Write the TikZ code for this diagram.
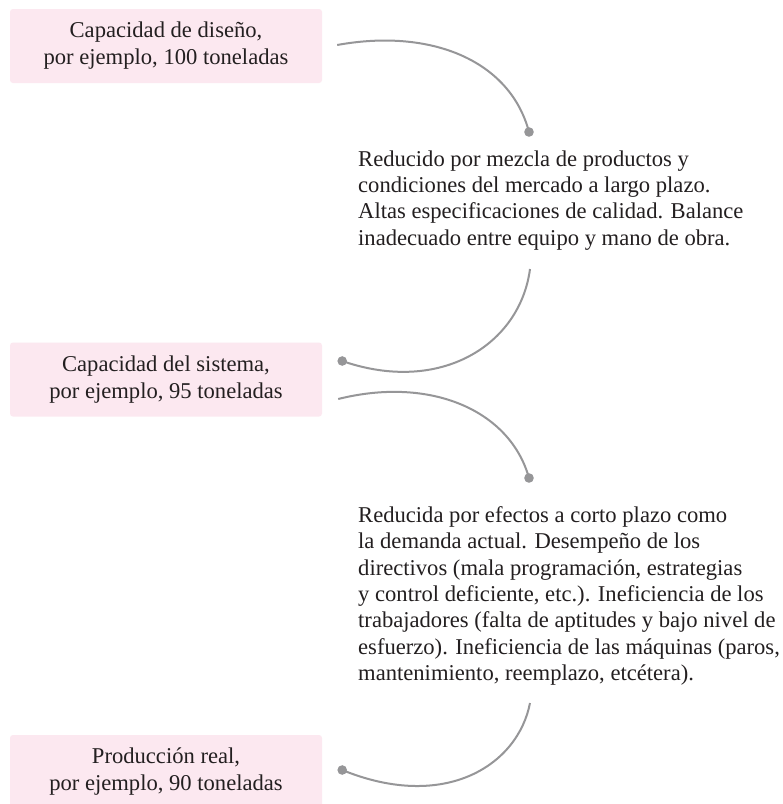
\documentclass[tikz,border=0pt]{standalone}
\usepackage{fontspec}
\setmainfont{Liberation Serif}
\usetikzlibrary{calc}
\definecolor{boxpink}{RGB}{252,232,240}
\definecolor{linegray}{RGB}{150,150,152}
\definecolor{txt}{RGB}{35,31,32}
\tikzset{
  capbox/.style={fill=boxpink, rounded corners=3pt, inner sep=0pt,
    minimum width=312pt, minimum height=74pt, align=center, text=txt,
    font=\fontsize{22.6}{27}\selectfont},
  note/.style={inner sep=0pt, anchor=north west, align=left, text=txt,
    font=\fontsize{22.6}{26.3}\selectfont},
  conn/.style={draw=linegray, line width=2pt},
  dotmark/.style={fill=linegray}
}
\begin{document}
\begin{tikzpicture}[x=1pt,y=-1pt]
\fill[white] (0,0) rectangle (783,804);
\useasboundingbox (0,0) rectangle (783,804);

\node[capbox] (b1) at (166,46) {Capacidad de diseño,\\por ejemplo, 100 toneladas};
\node[capbox] (b2) at (166,379.5) {Capacidad del sistema,\\por ejemplo, 95 toneladas};
\node[capbox] (b3) at (166,772) {Producción real,\\por ejemplo, 90 toneladas};

\node[note] (t1) at (358,150.5) {Reducido por mezcla de productos y\\condiciones del mercado a largo plazo.\\Altas especificaciones de calidad. Balance\\inadecuado entre equipo y mano de obra.};
\node[note] (t2) at (358,506.5) {Reducida por efectos a corto plazo como\\la demanda actual. Desempeño de los\\directivos (mala programación, estrategias\\y control deficiente, etc.). Ineficiencia de los\\trabajadores (falta de aptitudes y bajo nivel de\\esfuerzo). Ineficiencia de las máquinas (paros,\\mantenimiento, reemplazo, etcétera).};

\coordinate (s1) at ($(b1.east)+(15,-1)$);
\coordinate (d1) at ($(t1.north west)+(171,-18.5)$);
\coordinate (s2) at ($(t1.north west)+(172,118.5)$);
\coordinate (d2) at ($(b2.east)+(20,-18.5)$);
\coordinate (s3) at ($(b2.east)+(16,19.5)$);
\coordinate (d3) at ($(t2.north west)+(171,-28.5)$);
\coordinate (s4) at ($(t2.north west)+(172,196.5)$);
\coordinate (d4) at ($(b3.east)+(20,-2)$);

\draw[conn] (s1) .. controls ($(s1)+(93,-17)$) and ($(d1)+(-19,-72)$) .. (d1);
\draw[conn] (s2) .. controls ($(s2)+(-10,76)$) and ($(d2)+(98,34)$) .. (d2);
\draw[conn] (s3) .. controls ($(s3)+(92,-23)$) and ($(d3)+(-19,-68)$) .. (d3);
\draw[conn] (s4) .. controls ($(s4)+(-12,62)$) and ($(d4)+(103,42)$) .. (d4);

\fill[dotmark] (d1) circle (4.8pt);
\fill[dotmark] (d2) circle (4.8pt);
\fill[dotmark] (d3) circle (4.8pt);
\fill[dotmark] (d4) circle (4.8pt);
\end{tikzpicture}
\end{document}
